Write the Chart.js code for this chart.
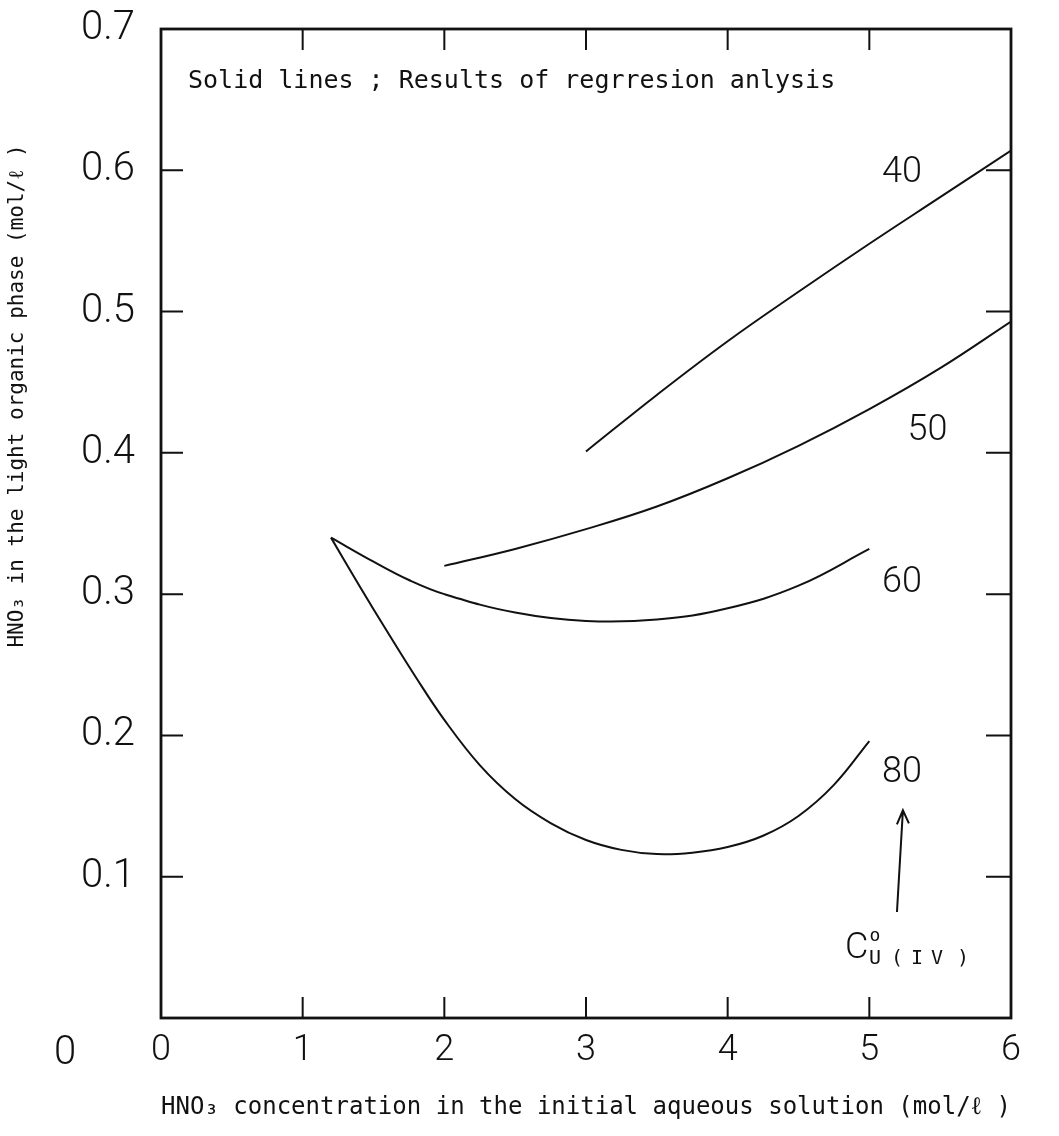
<!DOCTYPE html>
<html>
<head>
<meta charset="utf-8">
<script src="https://cdn.jsdelivr.net/npm/chart.js@4.4.0/dist/chart.umd.min.js"></script>
<style>
  html, body { margin: 0; padding: 0; background: #fff; }
</style>
</head>
<body>
<canvas id="chart" width="1059" height="1136"></canvas>
<script>
// values (x: HNO3 in aqueous, y: HNO3 in light organic phase)
const xTicks = [0, 1, 2, 3, 4, 5, 6];
const yTicks = [0, 0.1, 0.2, 0.3, 0.4, 0.5, 0.6, 0.7];

const x40 = [3.0, 3.5, 4.0, 4.5, 5.0, 5.5, 6.0];
const y40 = [0.401, 0.441, 0.479, 0.514, 0.548, 0.581, 0.614];

const x50 = [2.0, 2.5, 3.0, 3.5, 4.0, 4.5, 5.0, 5.5, 6.0];
const y50 = [0.320, 0.332, 0.346, 0.362, 0.382, 0.405, 0.431, 0.460, 0.493];

const x60 = [1.2, 1.5, 1.75, 2.0, 2.5, 3.0, 3.5, 4.0, 4.5, 5.0];
const y60 = [0.340, 0.323, 0.310, 0.300, 0.287, 0.281, 0.282, 0.290, 0.306, 0.332];

const x80 = [1.2, 1.4, 1.6, 1.8, 2.0, 2.25, 2.5, 2.75, 3.0, 3.25, 3.5, 3.75, 4.0, 4.25, 4.5, 4.75, 5.0];
const y80 = [0.340, 0.306, 0.273, 0.241, 0.211, 0.179, 0.155, 0.138, 0.126, 0.119, 0.116, 0.117, 0.121, 0.129, 0.143, 0.165, 0.196];

const curveLabels = ['40', '50', '60', '80'];

const xTitle = 'HNO\u2083 concentration in the initial aqueous solution (mol/\u2113 )';
const yTitle = 'HNO\u2083 in the light organic phase (mol/\u2113 )';
const noteText = 'Solid lines ; Results of regrresion anlysis';

const INK = '#111';

const toPoints = (xs, ys) => xs.map((v, i) => ({ x: v, y: ys[i] }));

const curve = (label, xs, ys) => ({
  label,
  data: toPoints(xs, ys),
  showLine: true,
  borderColor: INK,
  borderWidth: 2,
  pointRadius: 0,
  tension: 0.4,
  fill: false
});

// frame on all four sides with inward ticks, plus the text notes
const frameAndNotes = {
  id: 'frameAndNotes',
  afterDraw(chart) {
    const { ctx, chartArea: a, scales: { x, y } } = chart;
    ctx.save();
    ctx.strokeStyle = INK;
    ctx.lineWidth = 2.8;
    ctx.strokeRect(a.left, a.top, a.right - a.left, a.bottom - a.top);

    ctx.lineWidth = 2;
    ctx.beginPath();
    x.ticks.forEach(t => {
      if (t.value <= x.min || t.value >= x.max) return;
      const px = x.getPixelForValue(t.value);
      ctx.moveTo(px, a.bottom); ctx.lineTo(px, a.bottom - 21);
      ctx.moveTo(px, a.top); ctx.lineTo(px, a.top + 21);
    });
    y.ticks.forEach(t => {
      if (t.value <= y.min + 1e-9 || t.value >= y.max - 1e-9) return;
      const py = y.getPixelForValue(t.value);
      ctx.moveTo(a.left, py); ctx.lineTo(a.left + 22, py);
      ctx.moveTo(a.right, py); ctx.lineTo(a.right - 25, py);
    });
    ctx.stroke();

    ctx.fillStyle = INK;

    // the lone "0" of the y axis sits low and left in the original
    ctx.font = '300 40px Roboto';
    ctx.textAlign = 'center';
    ctx.textBaseline = 'alphabetic';
    ctx.fillText('0', a.left - 96, a.bottom + 46);

    // y axis title, rotated
    ctx.save();
    ctx.translate(18, 396);
    ctx.rotate(-Math.PI / 2);
    ctx.font = '21px "DejaVu Sans Mono"';
    ctx.textAlign = 'center';
    ctx.textBaseline = 'middle';
    ctx.fillText(yTitle, 0, 0);
    ctx.restore();

    // note line
    ctx.font = '25px "DejaVu Sans Mono"';
    ctx.textAlign = 'left';
    ctx.textBaseline = 'middle';
    ctx.fillText(noteText, a.left + 27, a.top + 52);

    // curve labels
    const spots = [[5.23, 0.601], [5.41, 0.418], [5.23, 0.311], [5.23, 0.176]];
    ctx.font = '300 36px Roboto';
    ctx.textAlign = 'center';
    ctx.textBaseline = 'alphabetic';
    curveLabels.forEach((txt, i) => {
      ctx.fillText(txt, x.getPixelForValue(spots[i][0]), y.getPixelForValue(spots[i][1]) + 13);
    });

    // arrow pointing up to the 80 label
    const tx = x.getPixelForValue(5.195), ty = y.getPixelForValue(0.075);
    const hx = x.getPixelForValue(5.237), hy = y.getPixelForValue(0.147);
    ctx.lineWidth = 2;
    ctx.beginPath();
    ctx.moveTo(tx, ty); ctx.lineTo(hx, hy);
    ctx.moveTo(hx - 6, hy + 14); ctx.lineTo(hx, hy); ctx.lineTo(hx + 6, hy + 13);
    ctx.stroke();

    // C°U(IV)
    ctx.font = '300 36px Roboto';
    ctx.textAlign = 'left';
    ctx.fillText('C', 845, 958);
    ctx.font = '18px "DejaVu Sans Mono"';
    ctx.textAlign = 'center';
    ctx.fillText('o', 875, 941);
    ctx.font = '20px "DejaVu Sans Mono"';
    [['U', 875], ['(', 897], ['I', 917], ['V', 937], [')', 963]].forEach(([s, px]) => ctx.fillText(s, px, 964));
    ctx.restore();
  }
};

new Chart(document.getElementById('chart').getContext('2d'), {
  type: 'scatter',
  data: {
    datasets: [
      curve('40', x40, y40),
      curve('50', x50, y50),
      curve('60', x60, y60),
      curve('80', x80, y80)
    ]
  },
  options: {
    responsive: false,
    animation: false,
    layout: { padding: { top: 29, right: 48, left: 0, bottom: 0 } },
    plugins: {
      legend: { display: false },
      tooltip: { enabled: false }
    },
    scales: {
      x: {
        type: 'linear',
        min: xTicks[0],
        max: xTicks[xTicks.length - 1],
        afterFit: s => { s.height = 118; s.paddingLeft = 0; s.paddingRight = 0; },
        afterBuildTicks: s => { s.ticks = xTicks.map(v => ({ value: v })); },
        grid: { display: false, drawTicks: false },
        border: { display: false },
        ticks: {
          padding: 11,
          color: INK,
          font: { family: 'Roboto', size: 36, weight: '300' },
          callback: v => String(v)
        },
        title: {
          display: true,
          text: xTitle,
          color: INK,
          font: { family: 'DejaVu Sans Mono', size: 25 },
          padding: { top: 0, bottom: 14 }
        }
      },
      y: {
        type: 'linear',
        min: yTicks[0],
        max: yTicks[yTicks.length - 1],
        afterFit: s => { s.width = 161; s.paddingTop = 0; s.paddingBottom = 0; },
        afterBuildTicks: s => { s.ticks = yTicks.map(v => ({ value: v })); },
        grid: { display: false, drawTicks: false },
        border: { display: false },
        ticks: {
          padding: 26,
          color: INK,
          font: { family: 'Roboto', size: 40, weight: '300' },
          callback: v => (v === 0 ? '' : v.toFixed(1))
        }
      }
    }
  },
  plugins: [frameAndNotes]
});
</script>
</body>
</html>
